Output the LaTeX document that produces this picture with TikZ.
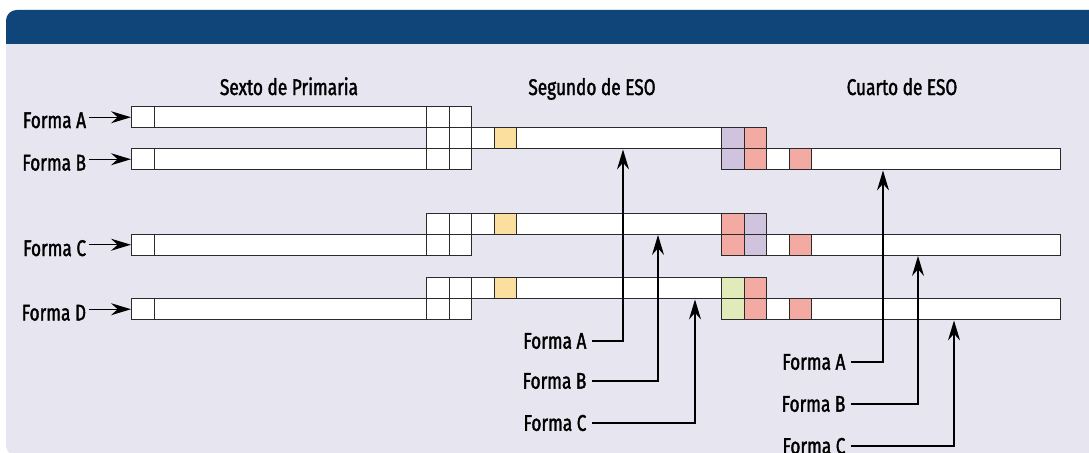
\documentclass[tikz,border=0pt]{standalone}
\usepackage{fontspec}
\setmainfont[FakeStretch=0.76, FakeBold=1.6]{Fira Sans}
\usetikzlibrary{arrows.meta}

\definecolor{hdrblue}{HTML}{0F4579}
\definecolor{panelbg}{HTML}{E7E6F0}
\definecolor{edgegray}{HTML}{2A2A2A}
\definecolor{cyellow}{HTML}{FBDF9E}
\definecolor{cpurple}{HTML}{D0C3DE}
\definecolor{cpink}{HTML}{F3AAA2}
\definecolor{cgreen}{HTML}{E0EBB9}

\tikzset{
  cell/.style={draw=edgegray, line width=1.1pt, fill=white, anchor=north west,
    inner sep=0pt, minimum width=16.875pt, minimum height=15.75pt},
  bar/.style={cell, minimum width=#1},
  lbl/.style={font=\fontsize{17}{19}\selectfont, inner sep=2pt},
  botlbl/.style={lbl, inner xsep=4pt, anchor=east},
  tip/.style={-{Stealth[length=15pt,width=9pt,inset=5pt]}, line width=0.9pt},
}

\begin{document}
\begin{tikzpicture}[x=0.75pt, y=-0.75pt]
\useasboundingbox (0,0) rectangle (1089,453);
\clip (0,0) rectangle (1089,453);
% panel and header
\fill[panelbg, rounded corners=8pt] (6,10) rectangle (1110,456);
\begin{scope}
\clip (0,10) rectangle (1089,44);
\fill[hdrblue, rounded corners=8pt] (6,10) rectangle (1110,80);
\end{scope}

% column titles
\node[lbl, anchor=base] (tSexto) at (289,95) {Sexto de Primaria};
\node[lbl, anchor=base] (tSegundo) at (592,95) {Segundo de ESO};
\node[lbl, anchor=base] (tCuarto) at (902,95) {Cuarto de ESO};

% Sexto de Primaria
\node[cell] (sA0) at (131,106) {};
\node[bar=204.375pt] (sA1) at (153.5,106) {};
\node[cell] (sA2) at (426,106) {};
\node[cell] (sA3) at (448.5,106) {};
\node[cell] (sB0) at (131,148) {};
\node[bar=204.375pt] (sB1) at (153.5,148) {};
\node[cell] (sB2) at (426,148) {};
\node[cell] (sB3) at (448.5,148) {};
\node[cell] (sC0) at (131,233.5) {};
\node[bar=204.375pt] (sC1) at (153.5,233.5) {};
\node[cell] (sC2) at (426,233.5) {};
\node[cell] (sC3) at (448.5,233.5) {};
\node[cell] (sD0) at (131,298) {};
\node[bar=204.375pt] (sD1) at (153.5,298) {};
\node[cell] (sD2) at (426,298) {};
\node[cell] (sD3) at (448.5,298) {};

% Segundo de ESO
\node[cell] (gA0) at (426,127) {};
\node[cell] (gA1) at (448.5,127) {};
\node[cell] (gA2) at (471,127) {};
\node[cell, fill=cyellow] (gA3) at (493.5,127) {};
\node[bar=153.75pt] (gA4) at (516,127) {};
\node[cell, fill=cpurple] (gA5) at (721,127) {};
\node[cell, fill=cpink] (gA6) at (743.5,127) {};
\node[cell] (gB0) at (426,212.5) {};
\node[cell] (gB1) at (448.5,212.5) {};
\node[cell] (gB2) at (471,212.5) {};
\node[cell, fill=cyellow] (gB3) at (493.5,212.5) {};
\node[bar=153.75pt] (gB4) at (516,212.5) {};
\node[cell, fill=cpink] (gB5) at (721,212.5) {};
\node[cell, fill=cpurple] (gB6) at (743.5,212.5) {};
\node[cell] (gC0) at (426,277) {};
\node[cell] (gC1) at (448.5,277) {};
\node[cell] (gC2) at (471,277) {};
\node[cell, fill=cyellow] (gC3) at (493.5,277) {};
\node[bar=153.75pt] (gC4) at (516,277) {};
\node[cell, fill=cgreen] (gC5) at (721,277) {};
\node[cell, fill=cpink] (gC6) at (743.5,277) {};

% Cuarto de ESO
\node[cell, fill=cpurple] (cA0) at (721,148) {};
\node[cell, fill=cpink] (cA1) at (743.5,148) {};
\node[cell] (cA2) at (766,148) {};
\node[cell, fill=cpink] (cA3) at (788.5,148) {};
\node[bar=186.75pt] (cA4) at (811,148) {};
\node[cell, fill=cpink] (cB0) at (721,233.5) {};
\node[cell, fill=cpurple] (cB1) at (743.5,233.5) {};
\node[cell] (cB2) at (766,233.5) {};
\node[cell, fill=cpink] (cB3) at (788.5,233.5) {};
\node[bar=186.75pt] (cB4) at (811,233.5) {};
\node[cell, fill=cgreen] (cC0) at (721,298) {};
\node[cell, fill=cpink] (cC1) at (743.5,298) {};
\node[cell] (cC2) at (766,298) {};
\node[cell, fill=cpink] (cC3) at (788.5,298) {};
\node[bar=186.75pt] (cC4) at (811,298) {};

% entry labels
\node[lbl, anchor=base east] (fA) at (89,128) {Forma A};
\node[lbl, anchor=base east] (fB) at (89,170.5) {Forma B};
\node[lbl, anchor=base east] (fC) at (89,256) {Forma C};
\node[lbl, anchor=base east] (fD) at (89,320.5) {Forma D};
\draw[tip] (fA.east |- sA0.west) -- (sA0.west);
\draw[tip] (fB.east |- sB0.west) -- (sB0.west);
\draw[tip] (fC.east |- sC0.west) -- (sC0.west);
\draw[tip] (fD.east |- sD0.west) -- (sD0.west);

% Segundo de ESO pointers
\coordinate (xgA) at (623,0);
\coordinate (xgB) at (658,0);
\coordinate (xgC) at (695,0);
\node[botlbl] (lgA) at (592,341) {Forma A};
\node[botlbl] (lgB) at (592,381) {Forma B};
\node[botlbl] (lgC) at (592,423) {Forma C};
\draw[tip] (lgA.east) -| (xgA |- gA4.south);
\draw[tip] (lgB.east) -| (xgB |- gB4.south);
\draw[tip] (lgC.east) -| (xgC |- gC4.south);

% Cuarto de ESO pointers
\coordinate (xcA) at (883,0);
\coordinate (xcB) at (918,0);
\coordinate (xcC) at (954,0);
\node[botlbl] (lcA) at (851,362) {Forma A};
\node[botlbl] (lcB) at (851,404) {Forma B};
\node[botlbl] (lcC) at (851,446) {Forma C};
\draw[tip] (lcA.east) -| (xcA |- cA4.south);
\draw[tip] (lcB.east) -| (xcB |- cB4.south);
\draw[tip] (lcC.east) -| (xcC |- cC4.south);
\end{tikzpicture}
\end{document}
